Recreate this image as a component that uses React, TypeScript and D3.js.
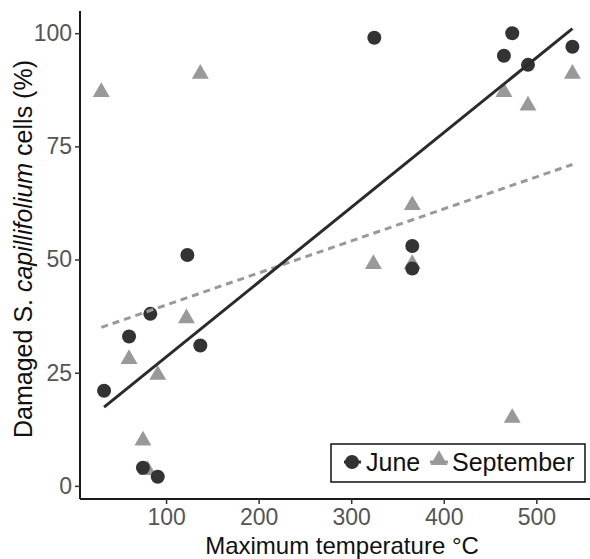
import React, { useEffect, useRef } from 'react';
import * as d3 from 'd3';

// June observations (max temperature °C, damaged cells %)
const juneTemp = [33, 60, 83, 123, 137, 75, 91, 325, 366, 366, 465, 474, 491, 539];
const juneDamage = [21, 33, 38, 51, 31, 4, 2, 99, 53, 48, 95, 100, 93, 97];

// September observations
const septTemp = [30, 137, 60, 91, 75, 80, 122, 324, 366, 366, 465, 491, 539, 474];
const septDamage = [87, 91, 28, 24.5, 10, 3.5, 37, 49, 62, 49, 87, 84, 91, 15];

// fitted lines, endpoints
const juneFit = [[33, 17.4], [539, 101]];
const septFit = [[30, 35], [539, 71]];

const xTicks = [100, 200, 300, 400, 500];
const yTicks = [0, 25, 50, 75, 100];

const W = 590;
const H = 559;
const FONT = '"Liberation Sans", Arial, sans-serif';

const App = () => {
  const ref = useRef<SVGSVGElement>(null);

  useEffect(() => {
    if (!ref.current) return;
    const svg = d3.select(ref.current);
    svg.selectAll('*').remove();

    const left = 80, right = 590, top = 11, bottom = 499;
    const x = d3.scaleLinear().domain([7, 558]).range([left, right]);
    const y = d3.scaleLinear().domain([-2.9, 104.9]).range([bottom, top]);

    // axes
    const xAxis = svg.append('g')
      .attr('transform', `translate(0,${bottom})`)
      .call(d3.axisBottom(x).tickValues(xTicks).tickSize(5).tickPadding(5));
    const yAxis = svg.append('g')
      .attr('transform', `translate(${left},0)`)
      .call(d3.axisLeft(y).tickValues(yTicks).tickSize(5).tickPadding(3));

    [xAxis, yAxis].forEach(a => {
      a.select('.domain').attr('stroke', '#1a1a1a').attr('stroke-width', 2);
      a.selectAll('.tick line').attr('stroke', '#333').attr('stroke-width', 1.5);
      a.selectAll('.tick text')
        .attr('fill', '#555')
        .attr('font-size', 23)
        .attr('font-family', FONT);
    });
    xAxis.select('.domain').attr('d', `M${left},0H${right}`);
    yAxis.select('.domain').attr('d', `M0,${bottom}V${top}`);

    // titles
    svg.append('text')
      .attr('x', 342).attr('y', 554)
      .attr('text-anchor', 'middle')
      .attr('font-size', 24).attr('font-family', FONT).attr('fill', '#111')
      .text('Maximum temperature °C');

    const yt = svg.append('text')
      .attr('transform', `translate(32,249) rotate(-90)`)
      .attr('text-anchor', 'middle')
      .attr('font-size', 25).attr('font-family', FONT).attr('fill', '#111');
    yt.append('tspan').text('Damaged S. ');
    yt.append('tspan').attr('font-style', 'italic').text('capillifolium');
    yt.append('tspan').text(' cells (%)');

    const line = d3.line<number[]>().x(d => x(d[0])).y(d => y(d[1]));

    // September points
    const tri = d3.symbol().type(d3.symbolTriangle).size(125);
    svg.append('g').selectAll('path')
      .data(septTemp.map((t, i) => [t, septDamage[i]]))
      .enter().append('path')
      .attr('d', tri)
      .attr('transform', d => `translate(${x(d[0])},${y(d[1])})`)
      .attr('fill', '#999');

    // June points
    svg.append('g').selectAll('circle')
      .data(juneTemp.map((t, i) => [t, juneDamage[i]]))
      .enter().append('circle')
      .attr('cx', d => x(d[0]))
      .attr('cy', d => y(d[1]))
      .attr('r', 7)
      .attr('fill', '#333');

    // fit lines
    svg.append('path')
      .attr('d', line(septFit))
      .attr('fill', 'none')
      .attr('stroke', '#999')
      .attr('stroke-width', 3)
      .attr('stroke-dasharray', '7,5');
    svg.append('path')
      .attr('d', line(juneFit))
      .attr('fill', 'none')
      .attr('stroke', '#2b2b2b')
      .attr('stroke-width', 3);

    // legend
    const lg = svg.append('g');
    lg.append('rect')
      .attr('x', 331).attr('y', 444).attr('width', 254).attr('height', 38)
      .attr('fill', '#fff').attr('stroke', '#111').attr('stroke-width', 1.5);
    lg.append('line').attr('x1', 344).attr('x2', 361).attr('y1', 462).attr('y2', 462)
      .attr('stroke', '#2b2b2b').attr('stroke-width', 3);
    lg.append('circle').attr('cx', 352).attr('cy', 462).attr('r', 7).attr('fill', '#333');
    lg.append('text').attr('x', 366).attr('y', 471)
      .attr('font-size', 25).attr('font-family', FONT).attr('fill', '#111').text('June');
    lg.append('line').attr('x1', 430).attr('x2', 448).attr('y1', 462).attr('y2', 462)
      .attr('stroke', '#999').attr('stroke-width', 3);
    lg.append('path').attr('d', tri)
      .attr('transform', 'translate(439,460)').attr('fill', '#999');
    lg.append('text').attr('x', 452).attr('y', 471)
      .attr('font-size', 25).attr('font-family', FONT).attr('fill', '#111').text('September');
  }, []);

  return (
    <div style={{ position: 'absolute', left: 0, top: 0 }}>
      <svg ref={ref} width={W} height={H} style={{ display: 'block', background: '#fff' }} />
    </div>
  );
};

export default App;
